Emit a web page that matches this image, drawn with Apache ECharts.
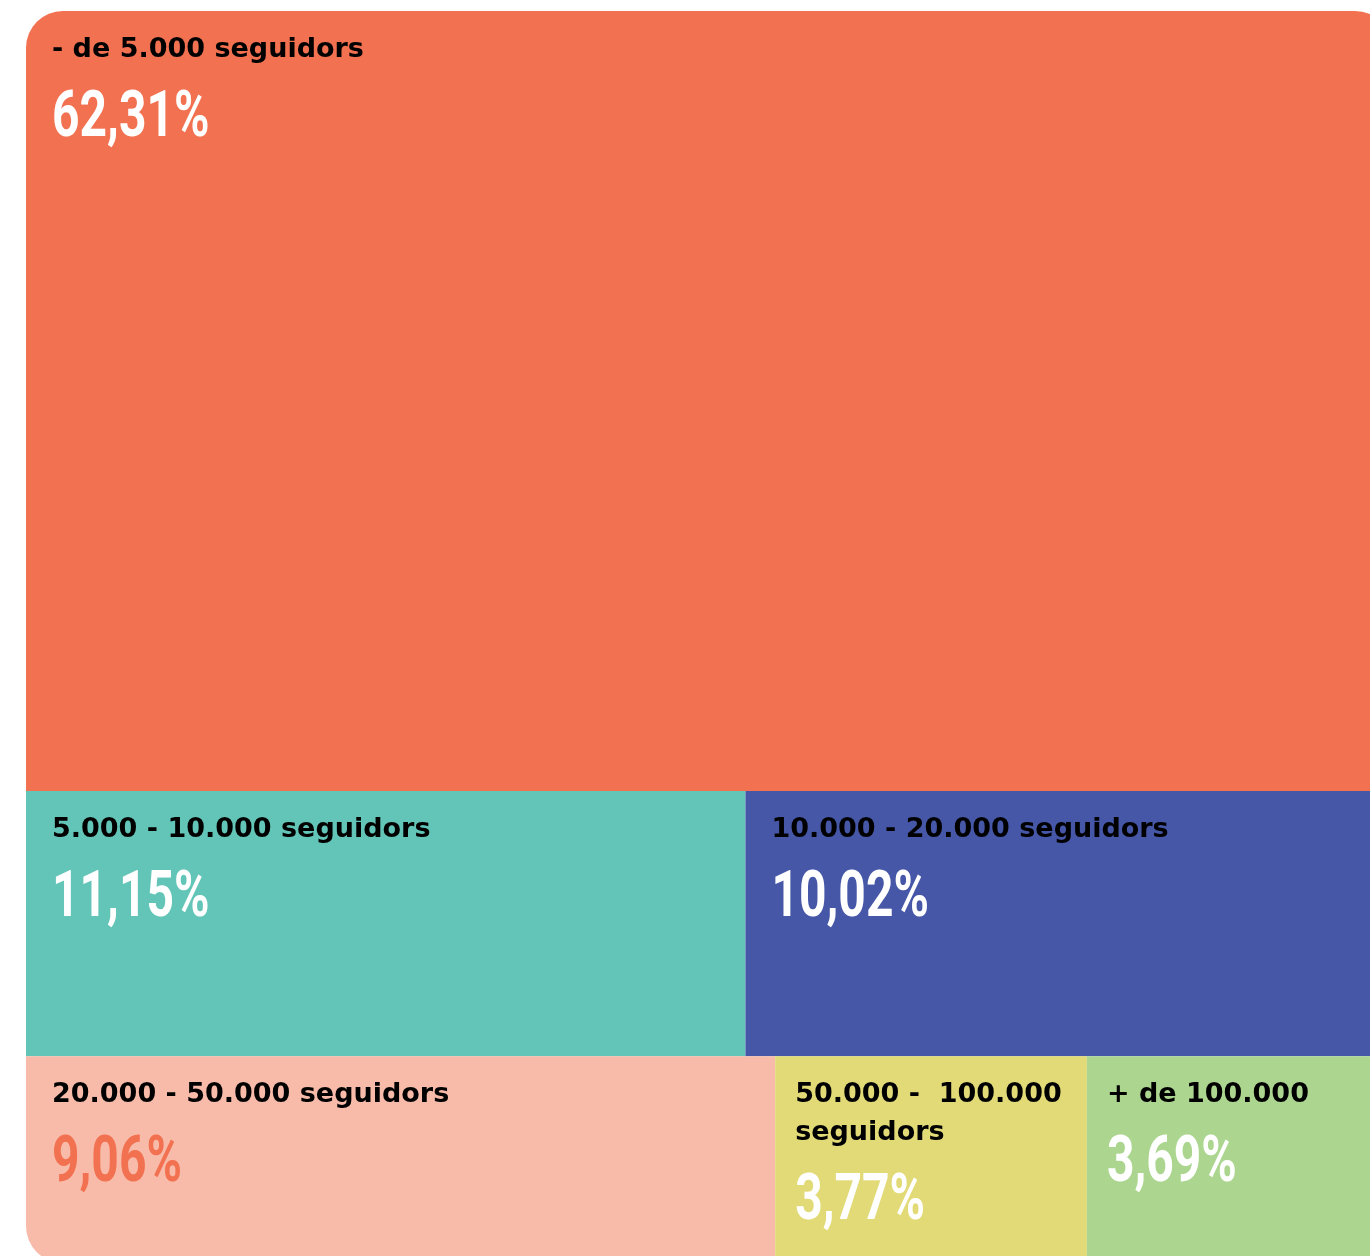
<!DOCTYPE html>
<html><head><meta charset="utf-8">
<script src="https://cdn.jsdelivr.net/npm/echarts@6/dist/echarts.min.js"></script>
<style>html,body{margin:0;padding:0;background:#fff}#c{width:1370px;height:1256px}</style>
</head><body><div id="c"></div>
<script>
// ---- data ----
const categories = ['- de 5.000 seguidors', '5.000 - 10.000 seguidors', '10.000 - 20.000 seguidors',
  '20.000 - 50.000 seguidors', '50.000 -  100.000 seguidors', '+ de 100.000'];
const shares = [62.31, 11.15, 10.02, 9.06, 3.77, 3.69];
const rowOf = [0, 1, 1, 2, 2, 2];

// ---- style ----
const fills = ['#F27150', '#63C5B8', '#4657A7', '#F8BAA9', '#E2DA77', '#ACD68F'];
const valueFills = ['#ffffff', '#ffffff', '#ffffff', '#F27150', '#ffffff', '#ffffff'];
const AREA = { x: 26, y: 11, w: 1366, h: 1252 };
const R = 37;
const NAME_FONT = 'bold 27px "DejaVu Sans"';
const VALUE_FONT = 'bold 64px Roboto';
const VALUE_SCALE_X = 0.75;
const NAME_OFFSET = 25, VALUE_OFFSET = 77, LINE_STEP = 38;

const fmt = v => v.toFixed(2).replace('.', ',') + '%';

function computeLayout() {
  const total = shares.reduce((a, b) => a + b, 0);
  const rowSums = [];
  rowOf.forEach((r, i) => { rowSums[r] = (rowSums[r] || 0) + shares[i]; });
  const rowY = [], rowH = [];
  let y = AREA.y;
  rowSums.forEach((s, r) => { rowY[r] = y; rowH[r] = AREA.h * s / total; y += rowH[r]; });
  const cursor = rowSums.map(() => AREA.x);
  return shares.map((v, i) => {
    const r = rowOf[i];
    const w = AREA.w * v / rowSums[r];
    const rect = { x: cursor[r], y: rowY[r], width: w, height: rowH[r] };
    cursor[r] += w;
    return rect;
  });
}
const rects = computeLayout();
const lastRow = Math.max(...rowOf);

const measureCtx = document.createElement('canvas').getContext('2d');
function wrap(text, font, maxW) {
  measureCtx.font = font;
  const words = text.split(' ');
  const lines = [];
  let cur = '';
  words.forEach(w => {
    const t = cur === '' ? w : cur + ' ' + w;
    if (measureCtx.measureText(t).width <= maxW || cur === '') cur = t;
    else { lines.push(cur); cur = w; }
  });
  if (cur) lines.push(cur);
  return lines;
}

function corners(i) {
  const r = rects[i];
  const isFirstRow = rowOf[i] === 0;
  const isLastRow = rowOf[i] === lastRow;
  const isLeft = Math.abs(r.x - AREA.x) < 0.5;
  const isRight = Math.abs(r.x + r.width - (AREA.x + AREA.w)) < 0.5;
  return [isFirstRow && isLeft ? R : 0, isFirstRow && isRight ? R : 0,
          isLastRow && isRight ? R : 0, isLastRow && isLeft ? R : 0];
}

const chart = echarts.init(document.getElementById('c'), null, { renderer: 'canvas' });
chart.setOption({
  backgroundColor: '#ffffff',
  animation: false,
  series: [{
    type: 'custom',
    coordinateSystem: 'none',
    data: shares.map((v, i) => [i, v]),
    renderItem: function (params, api) {
      const i = api.value(0);
      const r = rects[i];
      const pad = r.width < 400 ? 20 : 26;
      const lines = wrap(categories[i], NAME_FONT, r.width - pad - 8);
      const children = [{
        type: 'rect',
        shape: { x: r.x, y: r.y, width: r.width, height: r.height, r: corners(i) },
        style: { fill: fills[i] }
      }];
      lines.forEach((ln, k) => {
        children.push({
          type: 'text', x: r.x + pad, y: r.y + NAME_OFFSET + k * LINE_STEP,
          style: { text: ln, font: NAME_FONT, fill: '#000', align: 'left', verticalAlign: 'top' }
        });
      });
      children.push({
        type: 'text', x: r.x + pad, y: r.y + VALUE_OFFSET + (lines.length - 1) * LINE_STEP,
        scaleX: VALUE_SCALE_X,
        style: { text: fmt(api.value(1)), font: VALUE_FONT, fill: valueFills[i], align: 'left', verticalAlign: 'top' }
      });
      return { type: 'group', children: children };
    }
  }]
});
</script>
</body></html>
